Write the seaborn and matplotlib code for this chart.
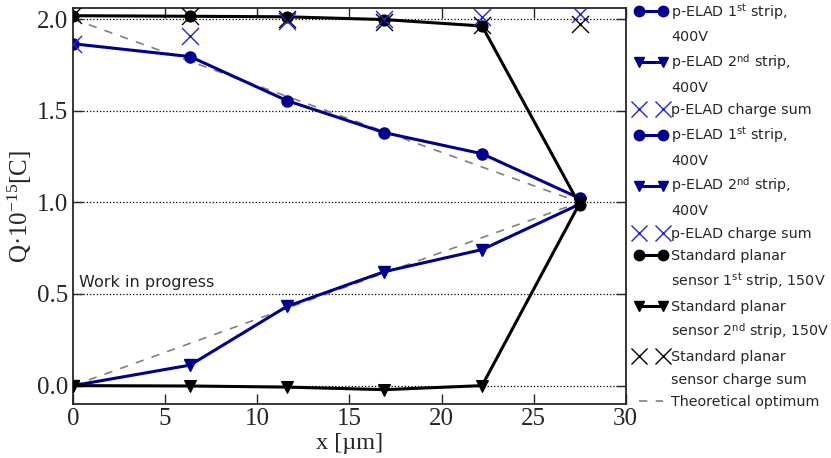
import numpy as np
import pandas as pd
import matplotlib
matplotlib.use('Agg')
import matplotlib.pyplot as plt
from matplotlib.lines import Line2D
import seaborn as sns

sns.set_style('ticks')
plt.rcParams.update({
    'font.family': ['DejaVu Sans'],
    'mathtext.fontset': 'custom',
    'mathtext.rm': 'Liberation Serif',
    'mathtext.it': 'Liberation Serif:italic',
    'mathtext.sf': 'DejaVu Sans',
    'xtick.direction': 'in', 'ytick.direction': 'in',
    'xtick.top': True, 'ytick.right': True,
})

# positions across the strip pitch
x_um = [0.0, 6.35, 11.6, 16.9, 22.2, 27.5]

# p-ELAD, 400V
elad_1st = [1.865, 1.795, 1.555, 1.38, 1.265, 1.022]
elad_2nd = [0.0, 0.112, 0.432, 0.622, 0.742, 0.99]
elad_sum = [1.865, 1.905, 1.99, 2.0, 2.012, 2.027]

# standard planar, 150V
std_1st = [2.018, 2.015, 2.012, 1.997, 1.962, 0.985]
std_2nd = [0.0, -0.002, -0.008, -0.022, 0.0, 0.995]
std_sum = [2.02, 2.018, 2.0, 1.982, 1.968, 1.972]

# theoretical optimum
opt_x = [0.0, 27.5]
opt_hi = [2.0, 1.0]
opt_lo = [0.0, 1.0]

BLUE = '#00008B'
XBLUE = '#2424d8'
SERIF = 'Liberation Serif'

fig = plt.figure(figsize=(8.31, 4.58), dpi=100)
ax = fig.add_axes([0.088, 0.118, 0.665, 0.8645])

df = pd.DataFrame({'x': x_um, 'e1': elad_1st, 'e2': elad_2nd, 'es': elad_sum,
                   's1': std_1st, 's2': std_2nd, 'ss': std_sum})
dopt = pd.DataFrame({'x': opt_x, 'hi': opt_hi, 'lo': opt_lo})

kw = dict(sort=False, estimator=None, legend=False, ax=ax)
for col in ['hi', 'lo']:
    sns.lineplot(data=dopt, x='x', y=col, color='gray', lw=1.2,
                 dashes=False, linestyle=(0, (5, 5)), zorder=2, **kw)

sns.lineplot(data=df, x='x', y='e1', color=BLUE, lw=2.2, marker='o', ms=8,
             mec=BLUE, mew=1, zorder=3, **kw)
sns.lineplot(data=df, x='x', y='e2', color=BLUE, lw=2.2, marker='v', ms=8,
             mec=BLUE, mew=1, zorder=3, **kw)
sns.lineplot(data=df, x='x', y='s1', color='black', lw=2.2, marker='o', ms=8,
             mec='black', zorder=4, **kw)
sns.lineplot(data=df, x='x', y='s2', color='black', lw=2.2, marker='v', ms=8,
             mec='black', zorder=4, **kw)
sns.scatterplot(data=df, x='x', y='es', marker='x', s=150, color=XBLUE,
                linewidth=1.0, zorder=5, legend=False, ax=ax)
sns.scatterplot(data=df, x='x', y='ss', marker='x', s=150, color='black',
                linewidth=1.0, zorder=5, legend=False, ax=ax)

ax.set_xlim(0, 30)
ax.set_ylim(-0.1, 2.06)
ax.set_yticks([0.0, 0.5, 1.0, 1.5, 2.0])
ax.set_yticklabels(['0.0', '0.5', '1.0', '1.5', '2.0'])
ax.yaxis.grid(True, linestyle=':', color='black', lw=0.9)
ax.tick_params(length=7, width=1, labelsize=18)
ax.tick_params(axis='x', pad=3)
for lab in ax.get_xticklabels() + ax.get_yticklabels():
    lab.set_fontfamily(SERIF)
for sp in ax.spines.values():
    sp.set_linewidth(1.3)
    sp.set_visible(True)

ax.set_xlabel('x [µm]', fontsize=17.5, fontfamily=SERIF, labelpad=2)
ax.set_ylabel('Q·10$^{-15}$[C]', fontsize=18, fontfamily=SERIF, labelpad=2)

ax.text(0.3, 0.56, 'Work in progress', fontsize=11.5, ha='left', va='center')

# legend: one row per text line, continuation lines get an empty handle
blank = Line2D([], [], lw=0, color='none')
circ_b = Line2D([], [], color=BLUE, lw=2.2, marker='o', ms=7.5)
tri_b = Line2D([], [], color=BLUE, lw=2.2, marker='v', ms=7.5)
x_b = Line2D([], [], color=XBLUE, lw=0, marker='x', ms=11, mew=1)
circ_k = Line2D([], [], color='black', lw=2.2, marker='o', ms=7.5)
tri_k = Line2D([], [], color='black', lw=2.2, marker='v', ms=7.5)
x_k = Line2D([], [], color='black', lw=0, marker='x', ms=11, mew=1)
dash = Line2D([], [], color='gray', lw=1.2, linestyle=(0, (5, 5)))

leg_rows = [
    (circ_b, 'p-ELAD 1$^{\\mathsf{st}}$ strip,'), (blank, '400V'),
    (tri_b, 'p-ELAD 2$^{\\mathsf{nd}}$ strip,'), (blank, '400V'),
    (x_b, 'p-ELAD charge sum'),
    (circ_b, 'p-ELAD 1$^{\\mathsf{st}}$ strip,'), (blank, '400V'),
    (tri_b, 'p-ELAD 2$^{\\mathsf{nd}}$ strip,'), (blank, '400V'),
    (x_b, 'p-ELAD charge sum'),
    (circ_k, 'Standard planar'), (blank, 'sensor 1$^{\\mathsf{st}}$ strip, 150V'),
    (tri_k, 'Standard planar'), (blank, 'sensor 2$^{\\mathsf{nd}}$ strip, 150V'),
    (x_k, 'Standard planar'), (blank, 'sensor charge sum'),
    (dash, 'Theoretical optimum'),
]
ax.legend([h for h, _ in leg_rows], [t for _, t in leg_rows],
          loc='upper left', bbox_to_anchor=(1.005, 1.03),
          frameon=False, numpoints=2, fontsize=10.3, handlelength=2.3,
          handletextpad=0.3, labelspacing=0.58, borderaxespad=0)

fig.savefig('out.png', dpi=100)
